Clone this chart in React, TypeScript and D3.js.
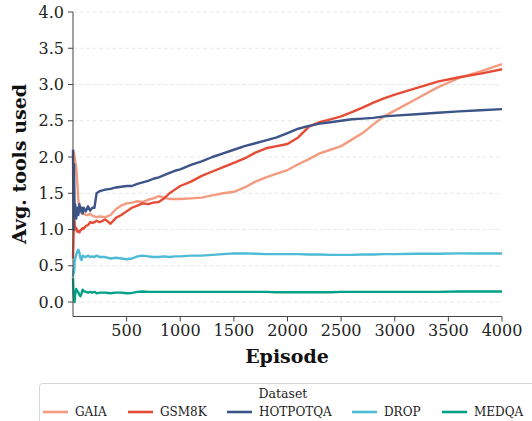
import React from "react";
import * as d3 from "d3";

const episodes = [
  0, 5, 10, 15, 20, 30, 40, 50, 60, 70, 80, 90, 100, 120, 140, 160, 180, 200, 220, 250,
  300, 350, 400, 450, 500, 550, 600, 650, 700, 750, 800, 850, 900, 950, 1000,
  1100, 1200, 1300, 1400, 1500, 1600, 1700, 1800, 1900, 2000,
  2100, 2200, 2300, 2400, 2500, 2600, 2700, 2800, 2900, 3000,
  3200, 3400, 3600, 3800, 4000,
];

const gaia = [
  2.1, 2.08, 2.05, 2.0, 1.95, 1.85, 1.65, 1.4, 1.3, 1.25, 1.22, 1.24, 1.22, 1.2, 1.2, 1.22, 1.19, 1.18, 1.17, 1.18,
  1.17, 1.2, 1.28, 1.33, 1.36, 1.37, 1.39, 1.38, 1.41, 1.43, 1.46, 1.44, 1.42, 1.42, 1.42,
  1.43, 1.44, 1.47, 1.5, 1.52, 1.58, 1.66, 1.72, 1.77, 1.82,
  1.9, 1.97, 2.05, 2.1, 2.15, 2.24, 2.33, 2.45, 2.56, 2.64,
  2.8, 2.96, 3.09, 3.18, 3.28,
];

const gsm8k = [
  0.6, 0.9, 1.2, 1.1, 1.0, 1.02, 0.97, 0.98, 0.96, 0.99, 1.0, 1.02, 1.01, 1.05, 1.06, 1.1, 1.09, 1.1, 1.12, 1.1,
  1.14, 1.08, 1.16, 1.2, 1.25, 1.3, 1.33, 1.36, 1.35, 1.37, 1.38, 1.43, 1.5, 1.55, 1.6,
  1.66, 1.74, 1.8, 1.86, 1.92, 1.98, 2.06, 2.12, 2.15, 2.18,
  2.27, 2.42, 2.48, 2.52, 2.56, 2.62, 2.68, 2.75, 2.81, 2.86,
  2.95, 3.04, 3.1, 3.15, 3.21,
];

const hotpotqa = [
  2.1, 1.0, 1.9, 1.2, 1.35, 1.15, 1.3, 1.2, 1.35, 1.25, 1.3, 1.22, 1.3, 1.25, 1.32, 1.26, 1.3, 1.3, 1.5, 1.53,
  1.55, 1.56, 1.58, 1.59, 1.6, 1.6, 1.63, 1.65, 1.67, 1.7, 1.72, 1.75, 1.78, 1.81, 1.83,
  1.89, 1.94, 2.0, 2.05, 2.1, 2.15, 2.19, 2.23, 2.27, 2.33,
  2.39, 2.43, 2.46, 2.48, 2.5, 2.52, 2.53, 2.54, 2.56, 2.57,
  2.59, 2.61, 2.63, 2.645, 2.66,
];

const drop = [
  0.35, 0.45, 0.4, 0.55, 0.6, 0.65, 0.7, 0.72, 0.68, 0.6, 0.58, 0.64, 0.63, 0.62, 0.64, 0.62, 0.63, 0.62, 0.64, 0.62,
  0.62, 0.6, 0.61, 0.6, 0.59, 0.6, 0.63, 0.64, 0.63, 0.62, 0.62, 0.63, 0.62, 0.63, 0.63,
  0.64, 0.64, 0.65, 0.66, 0.67, 0.67, 0.665, 0.66, 0.66, 0.66,
  0.66, 0.655, 0.655, 0.65, 0.65, 0.65, 0.655, 0.655, 0.66, 0.66,
  0.665, 0.665, 0.67, 0.67, 0.67,
];

const medqa = [
  0.33, 0.12, 0.03, 0.0, 0.1, 0.18, 0.15, 0.13, 0.1, 0.08, 0.12, 0.17, 0.15, 0.14, 0.13, 0.14, 0.13, 0.14, 0.12, 0.13,
  0.13, 0.12, 0.13, 0.13, 0.12, 0.125, 0.14, 0.145, 0.14, 0.14, 0.14, 0.14, 0.14, 0.14, 0.14,
  0.14, 0.14, 0.14, 0.14, 0.14, 0.14, 0.14, 0.14, 0.135, 0.135,
  0.135, 0.135, 0.135, 0.135, 0.14, 0.14, 0.14, 0.14, 0.14, 0.14,
  0.14, 0.14, 0.145, 0.145, 0.145,
];

const seriesNames = ["GAIA", "GSM8K", "HOTPOTQA", "DROP", "MEDQA"];
const seriesValues = [gaia, gsm8k, hotpotqa, drop, medqa];
const colors = ["#F39B7F", "#E64B35", "#3C5488", "#4DBBD5", "#00A087"];

const yTicks = [0, 0.5, 1, 1.5, 2, 2.5, 3, 3.5, 4];
const xTicks = [500, 1000, 1500, 2000, 2500, 3000, 3500, 4000];

const W = 532;
const H = 421;
const font = "'DejaVu Serif', 'Liberation Serif', serif";

export default function App() {
  const x = d3.scaleLinear().domain([0, 4000]).range([73, 502]);
  const y = d3.scaleLinear().domain([-0.2, 4]).range([316.5, 12]);

  const line = d3
    .line<number>()
    .x((_, i) => x(episodes[i]))
    .y((v) => y(v));

  // legend: handle start x for each entry
  const legendX = [43, 128, 227, 352, 442];

  return (
    <svg
      width={W}
      height={H}
      style={{ position: "absolute", left: 0, top: 0, background: "#fff", fontFamily: font }}
    >
      {/* grid */}
      {yTicks.map((t) => (
        <line
          key={"g" + t}
          x1={x(0)}
          x2={x(4000)}
          y1={y(t)}
          y2={y(t)}
          stroke="#e2e2e2"
          strokeWidth={0.8}
          strokeDasharray="4,2.5"
        />
      ))}

      {/* lines */}
      {seriesValues.map((vals, i) => (
        <path
          key={seriesNames[i]}
          d={line(vals) || ""}
          fill="none"
          stroke={colors[i]}
          strokeWidth={2.4}
          strokeLinejoin="round"
        />
      ))}

      {/* spines */}
      <line x1={x(0)} x2={x(0)} y1={y(4)} y2={y(-0.2)} stroke="#444" strokeWidth={1} />
      <line x1={x(0)} x2={x(4000)} y1={y(-0.2)} y2={y(-0.2)} stroke="#444" strokeWidth={1} />

      {/* y ticks */}
      {yTicks.map((t) => (
        <g key={"y" + t}>
          <line x1={x(0) - 5} x2={x(0)} y1={y(t)} y2={y(t)} stroke="#444" />
          <text
            x={x(0) - 9}
            y={y(t)}
            textAnchor="end"
            dominantBaseline="central"
            fontSize={16}
            fill="#222"
          >
            {t.toFixed(1)}
          </text>
        </g>
      ))}

      {/* x ticks */}
      {xTicks.map((t) => (
        <g key={"x" + t}>
          <line x1={x(t)} x2={x(t)} y1={y(-0.2)} y2={y(-0.2) + 5} stroke="#444" />
          <text
            x={x(t)}
            y={y(-0.2) + 19}
            textAnchor="middle"
            fontSize={16}
            fill="#222"
          >
            {t}
          </text>
        </g>
      ))}

      {/* axis labels */}
      <text x={287} y={363} textAnchor="middle" fontSize={19} fontWeight="bold" fill="#111">
        Episode
      </text>
      <text
        transform={`translate(26,164) rotate(-90)`}
        textAnchor="middle"
        fontSize={19}
        fontWeight="bold"
        fill="#111"
      >
        Avg. tools used
      </text>

      {/* legend */}
      <rect
        x={39.5}
        y={383.5}
        width={540}
        height={60}
        rx={3}
        fill="#fff"
        stroke="#d6d6d6"
        strokeWidth={1}
      />
      <text x={283} y={398} textAnchor="middle" fontSize={12.5} fill="#222">
        Dataset
      </text>
      {seriesNames.map((name, i) => (
        <g key={"l" + name}>
          <line
            x1={legendX[i]}
            x2={legendX[i] + 25}
            y1={412}
            y2={412}
            stroke={colors[i]}
            strokeWidth={2.6}
          />
          <text x={legendX[i] + 32} y={416} fontSize={12} fill="#222">
            {name}
          </text>
        </g>
      ))}
    </svg>
  );
}
